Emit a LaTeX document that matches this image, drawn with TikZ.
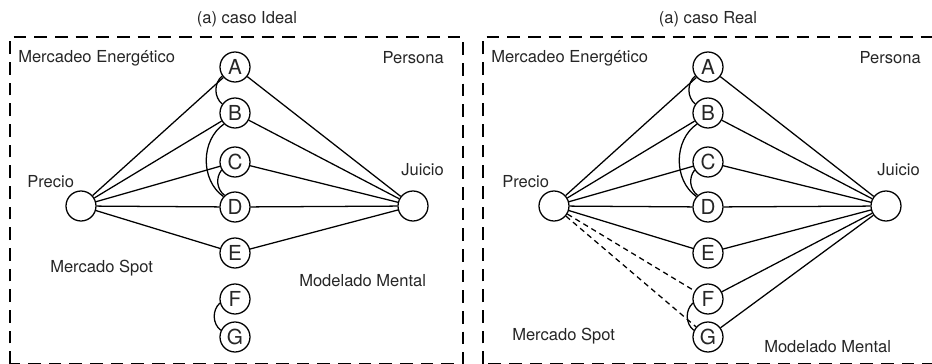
\documentclass[tikz,border=0pt]{standalone}
\usepackage{fontspec}
\setmainfont{TeX Gyre Heros}
\begin{document}
\begin{tikzpicture}[x=0.75pt,y=-0.75pt,
  every node/.style={font=\fontsize{12.4}{14}\selectfont, text=black!85},
  vtx/.style={circle,draw,line width=0.95pt,minimum size=22.5pt,inner sep=0pt,
    font=\fontsize{15.5}{16}\selectfont},
  link/.style={line width=0.95pt},
  dlink/.style={line width=0.95pt,dash pattern=on 4pt off 3pt},
  frame/.style={line width=1pt,dash pattern=on 9.5pt off 6pt},
  lbl/.style={inner sep=0pt}]
\useasboundingbox (0,0) rectangle (932,364);
% frames
\draw[frame] (10,364) -- (10,37) -- (463,37) -- (463,364) -- cycle;
\draw[frame] (483,364) -- (483,37) -- (940,37) -- (940,364) -- cycle;

% ---------- left panel ----------
\node[lbl] (t1) at (247,19) {(a) caso Ideal};
\node[lbl,anchor=base west] (me1) at (18,62) {Mercadeo Energético};
\node[lbl,anchor=base east] (pe1) at (444,63) {Persona};
\node[lbl,anchor=base east] (ju1) at (444,175) {Juicio};
\node[lbl,anchor=base west] (pr1) at (27,187) {Precio};
\node[lbl,anchor=base west] (ms1) at (50,272) {Mercado Spot};
\node[lbl,anchor=base west] (mm1) at (299,286) {Modelado Mental};

\node[vtx] (P1) at (81,206) {};
\node[vtx] (J1) at (413,206) {};
\node[vtx] (A1) at (235,67) {A};
\node[vtx] (B1) at (235,113) {B};
\node[vtx] (C1) at (235,162) {C};
\node[vtx] (D1) at (235,207) {D};
\node[vtx] (E1) at (235,253) {E};
\node[vtx] (F1) at (235,299) {F};
\node[vtx] (G1) at (235,337) {G};

\foreach \n in {A1,B1,C1,D1,E1}{
  \draw[link] (P1) -- (\n);
  \draw[link] (J1) -- (\n);
}
\draw[link] (A1.215) to[bend right=50] (B1.145);
\draw[link] (B1.225) to[bend right=55] (D1.138);
\draw[link] (C1.211) to[bend right=45] (D1.132);
\draw[link] (F1.195) to[bend right=50] (G1.155);

% ---------- right panel ----------
\node[lbl] (t2) at (708,19) {(a) caso Real};
\node[lbl,anchor=base west] (me2) at (491,62) {Mercadeo Energético};
\node[lbl,anchor=base east] (pe2) at (921,63) {Persona};
\node[lbl,anchor=base east] (ju2) at (920,175) {Juicio};
\node[lbl,anchor=base west] (pr2) at (502,187) {Precio};
\node[lbl,anchor=base west] (ms2) at (512,340) {Mercado Spot};
\node[lbl,anchor=base west] (mm2) at (764,352) {Modelado Mental};

\node[vtx] (P2) at (554,206) {};
\node[vtx] (J2) at (886,206) {};
\node[vtx] (A2) at (708,67) {A};
\node[vtx] (B2) at (708,113) {B};
\node[vtx] (C2) at (708,162) {C};
\node[vtx] (D2) at (708,207) {D};
\node[vtx] (E2) at (708,253) {E};
\node[vtx] (F2) at (708,299) {F};
\node[vtx] (G2) at (708,337) {G};

\foreach \n in {A2,B2,C2,D2,E2}{
  \draw[link] (P2) -- (\n);
}
\foreach \n in {A2,B2,C2,D2,E2,F2,G2}{
  \draw[link] (J2) -- (\n);
}
\draw[dlink] (P2) -- (F2);
\draw[dlink] (P2) -- (G2);
\draw[link] (A2.215) to[bend right=50] (B2.145);
\draw[link] (B2.225) to[bend right=55] (D2.138);
\draw[link] (C2.211) to[bend right=45] (D2.132);
\draw[link] (F2.195) to[bend right=50] (G2.155);
\end{tikzpicture}
\end{document}
